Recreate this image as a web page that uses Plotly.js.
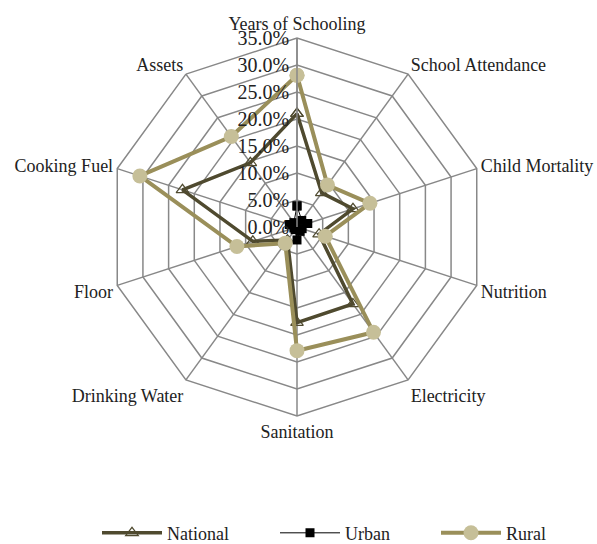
<!DOCTYPE html>
<html>
<head>
<meta charset="utf-8">
<script src="https://cdn.plot.ly/plotly-3.0.1.min.js"></script>
<style>html,body{margin:0;padding:0;background:#fff;}#chart{width:597px;height:544px;}</style>
</head>
<body>
<div id="chart"></div>
<script>
var categories = ["Years of Schooling","School Attendance","Child Mortality","Nutrition","Electricity","Sanitation","Drinking Water","Floor","Cooking Fuel","Assets"];
var national = [21.0, 7.8, 10.9, 4.3, 17.6, 17.7, 3.0, 8.6, 22.3, 14.7];
var urban = [3.9, 1.5, 2.1, 1.0, 1.0, 2.4, 0.6, 0.6, 1.5, 1.0];
var rural = [28.1, 9.6, 14.2, 5.5, 24.1, 22.9, 3.7, 11.7, 30.6, 20.7];
var tickVals = [0,5,10,15,20,25,30,35];

function closed(a){ return a.concat([a[0]]); }

var font = "Liberation Serif, Times New Roman, serif";
var traces = [
  {type:"scatterpolar", name:"National", legend:"legend", r:closed(national), theta:closed(categories), mode:"lines+markers",
   line:{color:"#4f4a2f", width:3.5}, marker:{symbol:"triangle-up-open", size:11, color:"#4f4a2f", line:{width:1.2, color:"#4f4a2f"}}},
  {type:"scatterpolar", name:"Urban", legend:"legend2", r:closed(urban), theta:closed(categories), mode:"lines+markers",
   line:{color:"#000000", width:1}, marker:{symbol:"square", size:9, color:"#000000"}},
  {type:"scatterpolar", name:"Rural", legend:"legend3", r:closed(rural), theta:closed(categories), mode:"lines+markers",
   line:{color:"#9a8f5a", width:4}, marker:{symbol:"circle", size:15, color:"#c6bf98", line:{width:0}}}
];

function leg(x){
  return {orientation:"h", xref:"container", yref:"container", x:x, xanchor:"left", y:0.02, yanchor:"middle",
    font:{family:font, size:18, color:"#222"}, itemwidth:60, bgcolor:"rgba(0,0,0,0)"};
}

var layout = {
  width:597, height:544,
  margin:{l:108, r:111, t:38, b:128},
  paper_bgcolor:"#ffffff",
  font:{family:font, size:18, color:"#222"},
  showlegend:true,
  legend:leg(97/597),
  legend2:leg(275/597),
  legend3:leg(436/597),
  polar:{
    bgcolor:"#ffffff",
    gridshape:"linear",
    domain:{x:[0,1], y:[0,1]},
    radialaxis:{range:[0,35], tickvals:tickVals, ticktext:tickVals.map(function(v){return v.toFixed(1)+"%";}),
      angle:90, side:"counterclockwise", showline:true, linecolor:"#888", linewidth:1.5,
      gridcolor:"#888", gridwidth:1.5, ticks:"", tickfont:{family:font, size:20, color:"#222"}, tickangle:90},
    angularaxis:{rotation:90, direction:"clockwise", showline:true, linecolor:"#888", linewidth:1.5,
      gridcolor:"#888", gridwidth:1.5, ticks:"", tickfont:{family:font, size:18, color:"#222"}}
  }
};

Plotly.newPlot("chart", traces, layout, {displayModeBar:false, staticPlot:true});
</script>
</body>
</html>
